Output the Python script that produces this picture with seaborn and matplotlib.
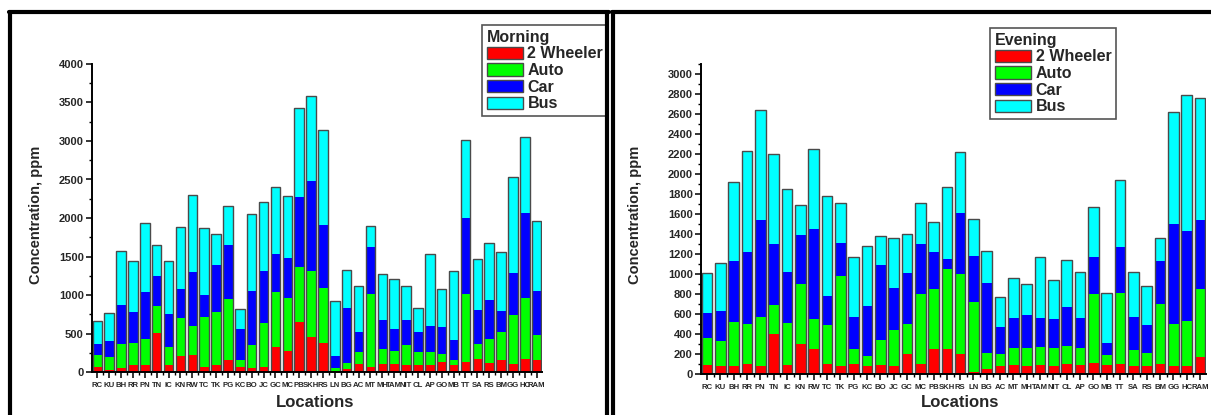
import matplotlib
matplotlib.use("Agg")
import matplotlib.pyplot as plt
from matplotlib.ticker import MultipleLocator, FixedLocator
from matplotlib.patches import Patch
from matplotlib.lines import Line2D
import numpy as np
import seaborn as sns

locations = ["RC", "KU", "BH", "RR", "PN", "TN", "IC", "KN", "RW", "TC",
             "TK", "PG", "KC", "BO", "JC", "GC", "MC", "PB", "SKH", "RS",
             "LN", "BG", "AC", "MT", "MH", "TAM", "NIT", "CL", "AP", "GO",
             "MB", "TT", "SA", "RS", "BM", "GG", "HC", "RAM"]

# morning concentrations, ppm
morning_2w = [69, 26, 56, 95, 91, 502, 87, 212, 225, 61,
              95, 160, 69, 56, 69, 325, 273, 654, 455, 377,
              17, 35, 100, 69, 100, 104, 87, 91, 91, 134,
              91, 126, 165, 113, 156, 100, 169, 160]
morning_auto = [147, 164, 308, 277, 342, 355, 242, 494, 377, 653,
                689, 792, 87, 290, 567, 710, 684, 710, 861, 714,
                31, 78, 164, 948, 194, 169, 264, 169, 173, 104,
                65, 883, 194, 311, 363, 636, 792, 321]
morning_car = [143, 208, 510, 407, 602, 394, 424, 376, 701, 290,
               610, 702, 407, 710, 680, 502, 524, 913, 1160, 814,
               164, 714, 255, 606, 377, 285, 320, 255, 329, 342,
               260, 987, 446, 511, 269, 554, 1104, 571]
morning_bus = [303, 364, 697, 667, 904, 398, 693, 805, 1000, 870,
               394, 502, 251, 1000, 896, 870, 805, 1147, 1108, 1242,
               706, 493, 602, 277, 597, 650, 450, 320, 944, 494,
               900, 1017, 667, 745, 766, 1247, 987, 905]

# evening concentrations, ppm
evening_2w = [90, 83, 80, 103, 80, 403, 93, 300, 253, 97,
              80, 97, 80, 93, 80, 203, 100, 250, 250, 205,
              20, 50, 80, 90, 80, 90, 77, 103, 90, 107,
              87, 100, 80, 80, 97, 77, 77, 170]
evening_auto = [270, 244, 440, 394, 493, 290, 420, 597, 297, 393,
                900, 153, 100, 247, 360, 294, 697, 597, 800, 792,
                703, 157, 117, 167, 183, 183, 186, 180, 173, 696,
                100, 713, 163, 127, 600, 426, 453, 680]
evening_car = [247, 306, 607, 723, 967, 604, 507, 493, 903, 293,
               327, 320, 503, 750, 423, 510, 506, 373, 100, 610,
               457, 703, 273, 303, 324, 287, 287, 384, 294, 370,
               120, 457, 327, 286, 433, 997, 897, 693]
evening_bus = [400, 477, 796, 1013, 1100, 900, 827, 300, 800, 994,
               400, 600, 594, 290, 500, 396, 407, 303, 723, 613,
               367, 320, 300, 400, 310, 610, 393, 470, 466, 494,
               500, 670, 447, 390, 233, 1117, 1363, 1214]

vehicle_names = ["2 Wheeler", "Auto", "Car", "Bus"]
colors = ["#FF0000", "#00FF00", "#0000FF", "#00FFFF"]
edge = "#4a4a4a"

sns.set_style("ticks")
plt.rcParams['font.family'] = ['Liberation Sans', 'DejaVu Sans']
plt.rcParams['font.weight'] = 'bold'

fig = plt.figure(figsize=(12.11, 4.15), dpi=100)
W, H = 1211.0, 415.0


def panel(rect):
    l, t, r, b = rect
    return fig.add_axes([l / W, 1 - b / H, (r - l) / W, (b - t) / H])


def draw(ax, series, title, ytop, major, minor, leg_xy, leg_loc, ylab_xy, xlab_xy):
    x = np.arange(len(locations))
    cum = np.cumsum(np.array(series, dtype=float), axis=0)
    # stacked bars, drawn back to front
    for i in range(3, -1, -1):
        sns.barplot(x=x, y=cum[i], color=colors[i], saturation=1, width=0.8,
                    linewidth=0, errorbar=None, ax=ax)
    sns.barplot(x=x, y=cum[3], color=edge, fill=False, width=0.8,
                linewidth=1.0, errorbar=None, ax=ax)

    ax.set_xlim(-0.45, len(locations) - 0.55)
    ax.set_ylim(0, ytop)
    ax.yaxis.set_major_locator(MultipleLocator(major))
    ax.yaxis.set_minor_locator(MultipleLocator(minor))
    ax.xaxis.set_major_locator(FixedLocator(x))
    ax.xaxis.set_minor_locator(FixedLocator(x[:-1] + 0.5))
    ax.set_xticklabels(locations, fontsize=5.6, fontweight='bold')
    ax.tick_params(axis='both', which='major', direction='out', length=4,
                   width=1.1, color='black', pad=2)
    ax.tick_params(axis='both', which='minor', direction='out', length=2.5,
                   width=1.0, color='black')
    ax.tick_params(axis='x', which='major', pad=3)
    sns.despine(ax=ax)
    for s in ["left", "bottom"]:
        ax.spines[s].set_linewidth(1.4)
        ax.spines[s].set_color("black")

    ax.set_ylabel("Concentration, ppm", fontsize=10.5, fontweight='bold')
    ax.set_xlabel("Locations", fontsize=12, fontweight='bold')
    ax.yaxis.set_label_coords(ylab_xy[0] / W, 1 - ylab_xy[1] / H, transform=fig.transFigure)
    ax.xaxis.set_label_coords(xlab_xy[0] / W, 1 - xlab_xy[1] / H, transform=fig.transFigure)

    handles = [Patch(facecolor=c, edgecolor=edge, linewidth=1, label=n)
               for c, n in zip(colors, vehicle_names)]
    leg = ax.legend(handles=handles, title=title, loc=leg_loc,
                    bbox_to_anchor=(leg_xy[0] / W, 1 - leg_xy[1] / H),
                    bbox_transform=fig.transFigure, frameon=True, fancybox=False,
                    edgecolor="#555555", framealpha=1,
                    prop=dict(weight='bold', size=11.5),
                    title_fontproperties=dict(weight='bold', size=11.5),
                    alignment='left', borderpad=0.3, labelspacing=0.1,
                    handlelength=2.25, handleheight=0.8, handletextpad=0.3,
                    borderaxespad=0)
    leg.get_frame().set_linewidth(1.2)


ax1 = panel((92, 64, 542, 372))
draw(ax1, [morning_2w, morning_auto, morning_car, morning_bus], "Morning",
     4000, 500, 250, (608, 25), "upper right", (43, 215), (315, 395))

ax2 = panel((701, 64, 1206, 374))
draw(ax2, [evening_2w, evening_auto, evening_car, evening_bus], "Evening",
     3100, 200, 100, (990, 28), "upper left", (642, 215), (960, 395))
ax2.set_yticks(np.arange(0, 3001, 200))

for ax in (ax1, ax2):
    for lab in ax.get_yticklabels():
        lab.set_fontsize(8)
        lab.set_fontweight('bold')

# panel frames
for xs, ys in [((9, 609), (12, 12)), ((10, 10), (12, 415)), ((607, 607), (12, 415)),
               ((612, 1211), (12, 12)), ((613, 613), (12, 415))]:
    fig.add_artist(Line2D([xs[0] / W, xs[1] / W], [1 - ys[0] / H, 1 - ys[1] / H],
                          transform=fig.transFigure, color="black", linewidth=3))

fig.savefig("out.png", dpi=100)
